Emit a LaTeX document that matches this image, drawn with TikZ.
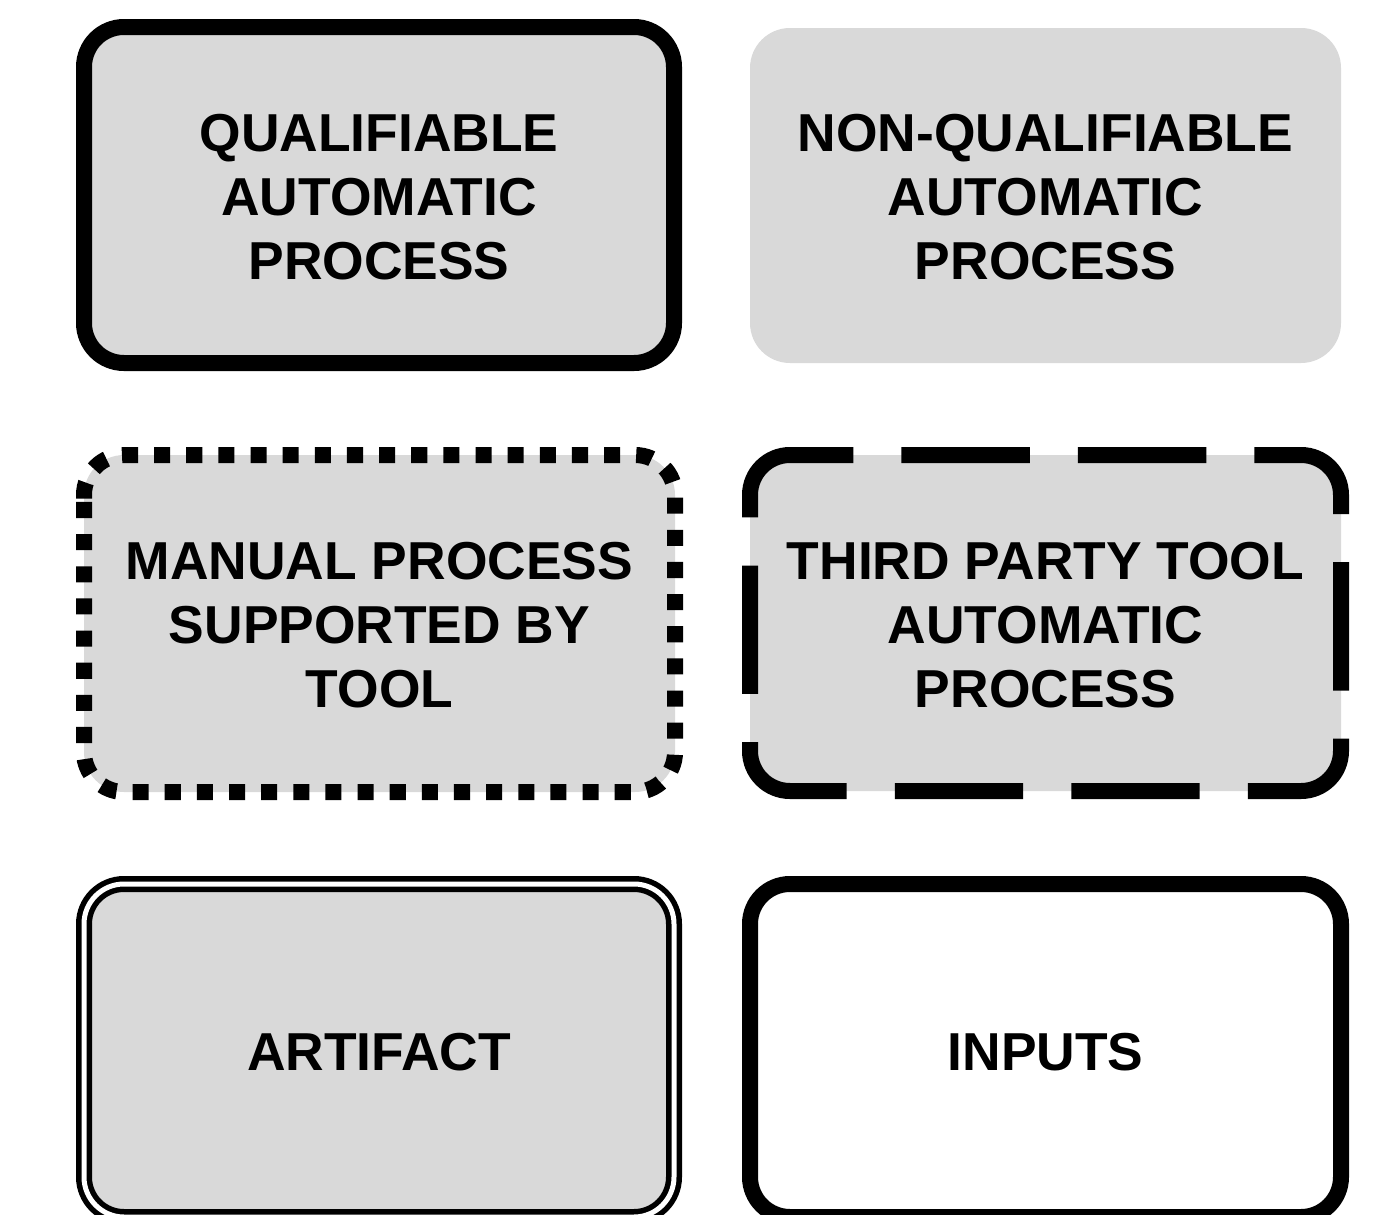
\documentclass[tikz,border=0pt]{standalone}
\usepackage{fontspec}
\setmainfont{Liberation Sans}
\definecolor{boxgray}{HTML}{D9D9D9}
\tikzset{
  boxbase/.style={rounded corners=20pt, line width=8pt},
  boxtext/.style={align=center, font=\fontsize{26.7pt}{32pt}\selectfont\bfseries, inner sep=0pt},
  solidbox/.style={boxbase, fill=boxgray, draw=black},
  plainbox/.style={boxbase, fill=boxgray},
  dotbox/.style={line width=8pt, draw=black, dash pattern=on 8.035pt off 8.035pt},
  longdashbox/.style={line width=8pt, draw=black, dash pattern=on 64.2pt off 24.05pt},
  doublebox/.style={rounded corners=20pt, fill=boxgray, draw=black, line width=2.75pt, double=white, double distance=2.5pt},
  whitebox/.style={boxbase, fill=white, draw=black},
}
\begin{document}
\begin{tikzpicture}[x=0.5pt, y=-0.5pt]
\useasboundingbox (0,0) rectangle (1376,1215);
% qualifiable
\draw[solidbox] (84,27) rectangle (674,363);
\node[boxtext] (qap) at (379,197) {QUALIFIABLE\\AUTOMATIC\\PROCESS};
% non-qualifiable
\path[plainbox] (750,28) rectangle (1341,363);
\node[boxtext] (nqap) at (1045.5,197) {NON-QUALIFIABLE\\AUTOMATIC\\PROCESS};
% manual
\path[plainbox] (84,455) rectangle (675,792);
\draw[dotbox] (84,498.5) -- (84,495) arc[start angle=180,end angle=270,radius=40]
  -- (635,455) arc[start angle=270,end angle=360,radius=40]
  -- (675,752) arc[start angle=0,end angle=90,radius=40]
  -- (124,792) arc[start angle=90,end angle=180,radius=40] -- (84,498.5);
\node[boxtext] (man) at (379.5,625) {MANUAL PROCESS\\SUPPORTED BY\\TOOL};
% third party
\path[plainbox] (750,455) rectangle (1341,791);
\draw[longdashbox] (750,497.2) -- (750,495) arc[start angle=180,end angle=270,radius=40]
  -- (1301,455) arc[start angle=270,end angle=360,radius=40]
  -- (1341,751) arc[start angle=0,end angle=90,radius=40]
  -- (790,791) arc[start angle=90,end angle=180,radius=40] -- (750,497.2);
\node[boxtext] (tpt) at (1045.5,625) {THIRD PARTY TOOL\\AUTOMATIC\\PROCESS};
% artifact
\draw[doublebox] (84,884) rectangle (674,1217);
\node[boxtext] (art) at (379,1052) {ARTIFACT};
% inputs
\draw[whitebox] (750,884) rectangle (1341,1217);
\node[boxtext] (inp) at (1045.5,1052) {INPUTS};
\end{tikzpicture}
\end{document}
